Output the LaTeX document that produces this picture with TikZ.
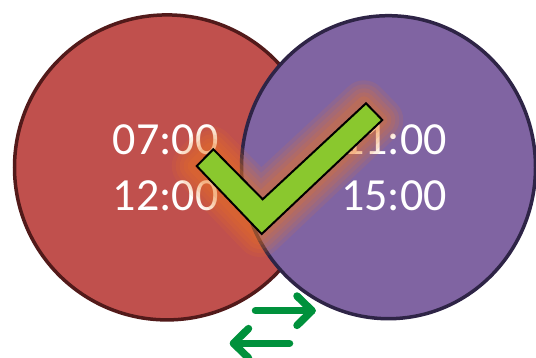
\documentclass[tikz,border=0pt]{standalone}
\usepackage{fontspec}
\setmainfont{Carlito}
\definecolor{leftred}{RGB}{192,80,77}
\definecolor{leftborder}{RGB}{82,26,26}
\definecolor{rightpurple}{RGB}{128,100,162}
\definecolor{rightborder}{RGB}{46,36,70}
\definecolor{checkgreen}{RGB}{138,200,46}
\definecolor{gloworange}{RGB}{238,118,32}
\definecolor{arrowgreen}{RGB}{0,145,60}
\begin{document}
\begin{tikzpicture}[x=1pt,y=-1pt,
  timetext/.style={text=white,font=\fontsize{46}{56}\selectfont,anchor=base,inner sep=0pt},
  circleshape/.style={line width=3.5pt},
  glowline/.style={draw=gloworange,line join=round,line cap=round},
  checkmark/.style={fill=checkgreen,draw=black,line width=2pt,line join=miter},
  arrowline/.style={draw=arrowgreen,line width=7.5pt,line cap=round,line join=round}]
\useasboundingbox (0,0) rectangle (536,357);
% circles
\filldraw[circleshape,fill=leftred,draw=leftborder] (167,167.4) ellipse [x radius=152.5, y radius=152.5];
\filldraw[circleshape,fill=rightpurple,draw=rightborder] (388.5,167.2) ellipse [x radius=147, y radius=151.5];
% times
\node[timetext] (t1) at (165.5,154.3) {07:00};
\node[timetext] (t2) at (165.5,210.7) {12:00};
\node[timetext] (t3) at (394,154.3) {11:00};
\node[timetext] (t4) at (394,210.7) {15:00};
% check mark coordinates
\coordinate (c1) at (213.3,149.3);
\coordinate (c2) at (262.7,199.3);
\coordinate (c3) at (366,103.3);
\coordinate (c4) at (382.3,120);
\coordinate (c5) at (261.7,234);
\coordinate (c6) at (196.7,166);
% glow
\foreach \w/\o in {46/0.12,38/0.13,30/0.14,22/0.15,14/0.17}{
  \draw[glowline,line width=\w pt,draw opacity=\o] ([xshift=-2pt]c1) -- ([xshift=-2pt]c2) -- ([xshift=-2pt]c3) -- ([xshift=-2pt]c4) -- ([xshift=-2pt]c5) -- ([xshift=-2pt]c6) -- cycle;
}
% check mark
\filldraw[checkmark] (c1) -- (c2) -- (c3) -- (c4) -- (c5) -- (c6) -- cycle;
% arrows
\coordinate (ra) at (255.5,310.7);
\coordinate (rb) at (312,310.7);
\coordinate (ru) at (297,296);
\coordinate (rd) at (297,325.4);
\draw[arrowline] (ra) -- (rb);
\draw[arrowline] (ru) -- (rb) -- (rd);
\coordinate (la) at (289.5,343.3);
\coordinate (lb) at (233.5,343.3);
\coordinate (lu) at (248.5,328.6);
\coordinate (ld) at (248.5,358);
\draw[arrowline] (la) -- (lb);
\draw[arrowline] (lu) -- (lb) -- (ld);
\end{tikzpicture}
\end{document}
